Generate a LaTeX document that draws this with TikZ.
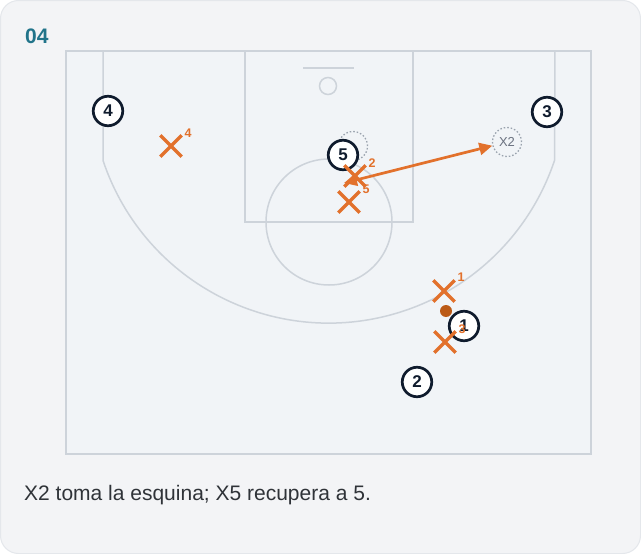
\documentclass[tikz,border=0pt]{standalone}
\usepackage{fontspec}
\setmainfont{Liberation Sans}
\usetikzlibrary{shapes.misc,arrows.meta}
\definecolor{cardbg}{HTML}{F3F4F6}
\definecolor{cardline}{HTML}{E4E7EB}
\definecolor{courtbg}{HTML}{F1F4F7}
\definecolor{courtline}{HTML}{CDD3DA}
\definecolor{navy}{HTML}{0F1B2D}
\definecolor{dorange}{HTML}{E2712C}
\definecolor{ballc}{HTML}{BB5A16}
\definecolor{teal}{HTML}{21748A}
\definecolor{ghost}{HTML}{9AA3AE}
\definecolor{ghosttext}{HTML}{6B7280}
\definecolor{captxt}{HTML}{2F3338}
\tikzset{
  court/.style={draw=courtline, line width=1.5pt},
  player/.style={circle, draw=navy, line width=2.7pt, fill=white, minimum size=29.5pt, inner sep=0pt,
    font=\fontsize{17}{17}\selectfont\bfseries, text=navy},
  xmark/.style={cross out, draw=dorange, line width=3.3pt, minimum size=18pt, inner sep=0pt},
  xlab/.style={font=\fontsize{12.5}{12.5}\selectfont\bfseries, text=dorange, inner sep=0pt},
  ghostc/.style={circle, draw=ghost, line width=1.3pt, dash pattern=on 1.5pt off 2pt, minimum size=29pt, inner sep=0pt,
    font=\fontsize{13}{13}\selectfont, text=ghosttext},
  movearrow/.style={draw=dorange, line width=2.7pt, {Triangle[length=13pt,width=12pt]}-{Triangle[length=13pt,width=12pt]}},
}
\begin{document}
\begin{tikzpicture}[x=1pt,y=-1pt]
\useasboundingbox (0,0) rectangle (641,554);
% card
\fill[white] (0,0) rectangle (641,554);
\draw[fill=cardbg, draw=cardline, line width=1pt, rounded corners=18pt] (0.5,0.5) rectangle (640.5,553.5);
% title
\node[anchor=base west, inner sep=0pt, text=teal, font=\fontsize{21}{21}\selectfont\bfseries] (title) at (25,43) {04};
% court
\draw[court, fill=courtbg] (66,51) rectangle (591,454);
\draw[court] (245,51) rectangle (413,222);
\draw[court] (303,68) -- (354,68);
\draw[court] (328,86) circle[radius=8.5];
\draw[court] (329,222) circle[radius=63];
\draw[court] (103,51) -- (103,160.4) arc[start angle=161.55, end angle=18.45, radius=238] -- (555,51);
% ghosts
\node[ghostc] (g5) at (353,146) {};
\node[ghostc] (gx2) at (507,142) {X2};
% players
\node[player] (p4) at (108,111) {4};
\node[player] (p3) at (547,112) {3};
\node[player] (p5) at (343,155) {5};
\node[player] (p1) at (464,326) {1};
\node[player] (p2) at (417,382) {2};
% defenders
\node[xmark] (x4) at (171,146) {};
\node[xlab] (x4l) at (188,133) {4};
\node[xmark] (x1) at (444,291) {};
\node[xlab] (x1l) at (461,277) {1};
\node[xmark] (x3) at (445,342) {};
\node[xlab] (x3l) at (462,329) {3};
\node[xmark] (x5) at (349,202) {};
\node[xlab] (x5l) at (366,189) {5};
\node[xmark] (x2) at (355,176) {};
\node[xlab] (x2l) at (372,163) {2};
% movement
\coordinate (x2tip) at (344,183);
\draw[movearrow] (x2tip) -- (gx2);
% ball
\node[circle, fill=ballc, minimum size=12pt, inner sep=0pt] (ball) at (446,311) {};
% caption
\node[anchor=base west, inner sep=0pt, text=captxt, font=\fontsize{21}{21}\selectfont] (cap) at (24,500) {X2 toma la esquina; X5 recupera a 5.};
\end{tikzpicture}
\end{document}
